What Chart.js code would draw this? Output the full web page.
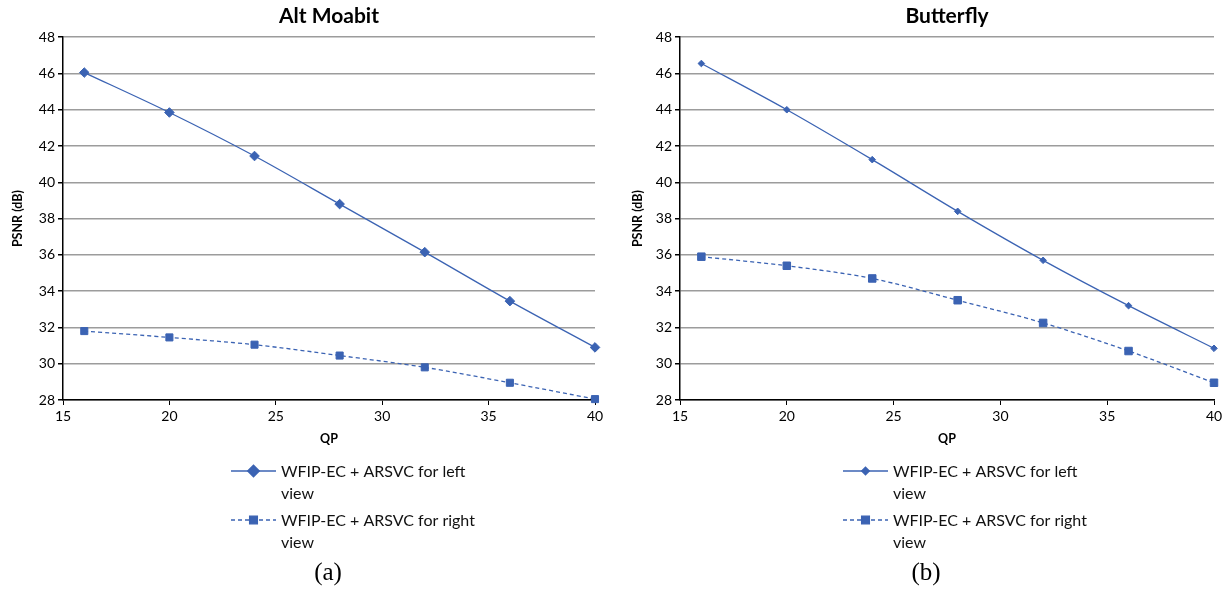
<!DOCTYPE html>
<html lang="en">
<head>
  <meta charset="UTF-8">
  <title>PSNR vs QP</title>
  <style>
    body {
      margin: 0;
      background: #fff;
      width: 1228px;
      height: 589px;
      position: relative;
      overflow: hidden;
    }

    .panel {
      position: absolute;
      top: 0;
      height: 560px;
    }

    #panelA { left: 0; width: 620px; }
    #panelB { left: 620px; width: 608px; }

    .caption {
      position: absolute;
      top: 557px;
      font-family: "Liberation Serif", "DejaVu Serif", serif;
      font-size: 25px;
      line-height: 30px;
      transform: translateX(-50%);
      color: #000;
    }
  </style>
</head>
<body>
  <div class="panel" id="panelA"><canvas id="chartA"></canvas></div>
  <div class="panel" id="panelB"><canvas id="chartB"></canvas></div>
  <div class="caption" style="left:328px">(a)</div>
  <div class="caption" style="left:926px">(b)</div>

  <script src="https://cdn.jsdelivr.net/npm/chart.js"></script>
  <script>
    // QP values on the x axis
    const qp = [16, 20, 24, 28, 32, 36, 40];

    // Alt Moabit
    const altLeft = [46.05, 43.85, 41.45, 38.8, 36.15, 33.45, 30.9];
    const altRight = [31.8, 31.45, 31.05, 30.45, 29.8, 28.95, 28.05];

    // Butterfly
    const butLeft = [46.55, 44.0, 41.25, 38.4, 35.7, 33.2, 30.85];
    const butRight = [35.9, 35.4, 34.7, 33.5, 32.25, 30.7, 28.95];

    const seriesNames = ['WFIP-EC + ARSVC for left view', 'WFIP-EC + ARSVC for right view'];

    const blue = '#3b63b3';
    const font = 'Lato, "Open Sans", sans-serif';

    // legend drawn below the plot, with wrapped text like the original
    const wrapLegend = {
      id: 'wrapLegend',
      afterDraw(chart, args, opts) {
        const ctx = chart.ctx;
        chart.data.datasets.forEach((ds, i) => {
          const y = opts.y[i];
          const x = opts.x;
          ctx.save();
          ctx.strokeStyle = ds.borderColor;
          ctx.lineWidth = ds.borderWidth;
          ctx.setLineDash(ds.borderDash || []);
          ctx.beginPath();
          ctx.moveTo(x, y);
          ctx.lineTo(x + 45, y);
          ctx.stroke();
          ctx.setLineDash([]);
          ctx.fillStyle = ds.pointBackgroundColor;
          ctx.strokeStyle = ds.pointBorderColor;
          Chart.helpers.drawPoint(ctx, {
            pointStyle: ds.pointStyle,
            rotation: 0,
            radius: opts.radius[i],
            borderWidth: 1
          }, x + 22.5, y);

          ctx.font = '16px ' + font;
          ctx.fillStyle = '#111';
          ctx.textBaseline = 'middle';
          ctx.textAlign = 'left';
          const words = ds.label.split(' ');
          const lines = [];
          let cur = '';
          words.forEach(w => {
            const test = cur ? cur + ' ' + w : w;
            if (ctx.measureText(test).width > opts.maxWidth && cur) {
              lines.push(cur);
              cur = w;
            } else {
              cur = test;
            }
          });
          lines.push(cur);
          lines.forEach((ln, k) => ctx.fillText(ln, x + 50, y + 1 + k * 22));
          ctx.restore();
        });
      }
    };

    function makeChart(id, title, leftVals, rightVals, cfg) {
      const ctx = document.getElementById(id).getContext('2d');
      return new Chart(ctx, {
        type: 'line',
        data: {
          datasets: [{
            label: seriesNames[0],
            data: qp.map((q, i) => ({ x: q, y: leftVals[i] })),
            borderColor: blue,
            backgroundColor: blue,
            pointBackgroundColor: blue,
            pointBorderColor: blue,
            borderWidth: 1.3,
            pointStyle: 'rectRot',
            pointRadius: cfg.diamond,
            pointBorderWidth: 1,
            tension: 0.3,
            clip: false
          }, {
            label: seriesNames[1],
            data: qp.map((q, i) => ({ x: q, y: rightVals[i] })),
            borderColor: blue,
            backgroundColor: blue,
            pointBackgroundColor: blue,
            pointBorderColor: blue,
            borderWidth: 1.3,
            borderDash: [4, 3],
            pointStyle: 'rect',
            pointRadius: cfg.square,
            pointBorderWidth: 1,
            tension: 0.3,
            clip: false
          }]
        },
        options: {
          responsive: true,
          maintainAspectRatio: false,
          animation: false,
          layout: {
            padding: { left: 0, right: cfg.padRight, top: 0, bottom: 110 }
          },
          plugins: {
            legend: { display: false },
            tooltip: { enabled: false },
            title: {
              display: true,
              text: title,
              fullSize: false,
              color: '#000',
              font: { family: font, size: 21, weight: 'bold' },
              padding: { top: 4, bottom: 8 }
            },
            wrapLegend: {
              x: cfg.legendX,
              y: [471, 520],
              radius: cfg.legendRadius,
              maxWidth: 200
            }
          },
          scales: {
            x: {
              type: 'linear',
              min: 15,
              max: 40,
              afterFit: s => { s.height = 50; },
              ticks: {
                stepSize: 5,
                color: '#000',
                padding: 3,
                font: { family: font, size: 14 }
              },
              grid: {
                drawOnChartArea: false,
                drawTicks: true,
                tickLength: 5,
                tickColor: '#000'
              },
              border: { color: '#000', width: 1.5 },
              title: {
                display: true,
                text: 'QP',
                color: '#000',
                font: { family: font, size: 12.5, weight: 'bold' },
                padding: { top: 5 }
              }
            },
            y: {
              min: 28,
              max: 48,
              afterFit: s => { s.width = cfg.axisLeft; },
              ticks: {
                stepSize: 2,
                color: '#000',
                padding: 3,
                font: { family: font, size: 14 }
              },
              grid: {
                color: '#9c9c9c',
                lineWidth: 1.5,
                tickLength: 5,
                tickColor: '#000'
              },
              border: { color: '#000', width: 1.5 },
              title: {
                display: true,
                text: 'PSNR (dB)',
                color: '#000',
                font: { family: font, size: 12.5, weight: 'bold' },
                padding: { top: 10, bottom: 0 }
              }
            }
          }
        },
        plugins: [wrapLegend]
      });
    }

    makeChart('chartA', 'Alt Moabit', altLeft, altRight, {
      axisLeft: 63, padRight: 25, legendX: 231,
      diamond: 4.8, square: 5, legendRadius: [5.8, 5.5]
    });

    makeChart('chartB', 'Butterfly', butLeft, butRight, {
      axisLeft: 60, padRight: 14, legendX: 223,
      diamond: 3.3, square: 5.3, legendRadius: [3.8, 5.5]
    });
  </script>
</body>
</html>
